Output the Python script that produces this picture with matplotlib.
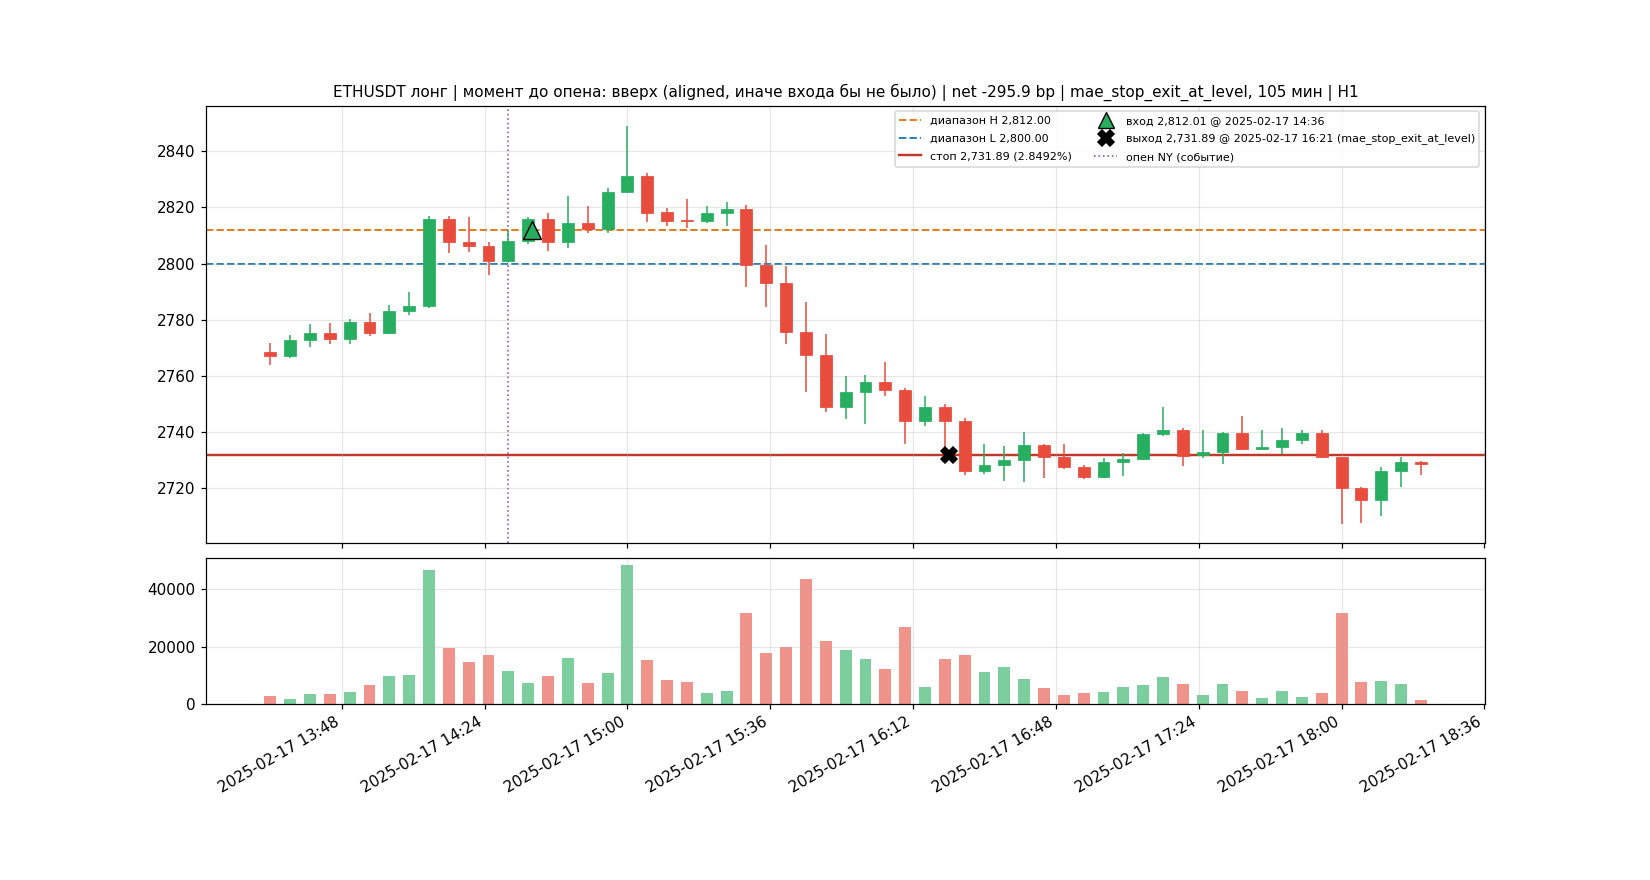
import matplotlib
matplotlib.use('agg')
import matplotlib.pyplot as plt
import matplotlib.dates as mdates
from matplotlib.lines import Line2D
from matplotlib.ticker import MultipleLocator
import numpy as np
import pandas as pd

# 5m bars, ETHUSDT 2025-02-17
t_start = '2025-02-17 13:30'
n_bars = 59

opens = [2768.5, 2767.0, 2772.9, 2775.4, 2773.2, 2779.3, 2775.4, 2783.2, 2785.0, 2815.7,
         2807.5, 2806.1, 2801.0, 2807.9, 2815.7, 2807.5, 2814.3, 2812.3, 2825.4, 2831.1,
         2818.2, 2815.5, 2815.0, 2817.9, 2819.3, 2799.3, 2792.9, 2775.7, 2767.4, 2748.9,
         2754.3, 2757.9, 2755.0, 2743.9, 2748.9, 2743.9, 2726.1, 2728.1, 2729.9, 2735.4,
         2730.9, 2727.5, 2723.8, 2729.2, 2730.2, 2739.2, 2740.7, 2731.6, 2732.7, 2739.6,
         2733.8, 2734.6, 2737.1, 2739.6, 2730.9, 2720.0, 2715.7, 2726.1, 2729.3]
highs = [2771.8, 2774.4, 2778.3, 2778.7, 2780.1, 2782.3, 2785.1, 2789.8, 2816.9, 2816.9,
         2816.5, 2807.6, 2811.9, 2816.5, 2817.9, 2824.0, 2820.5, 2826.8, 2849.2, 2832.3,
         2819.8, 2823.0, 2820.4, 2821.9, 2820.7, 2806.5, 2799.0, 2786.2, 2774.8, 2759.8,
         2760.1, 2764.8, 2755.5, 2752.7, 2749.8, 2745.0, 2735.8, 2735.1, 2740.1, 2735.8,
         2735.8, 2728.3, 2730.5, 2732.6, 2739.7, 2748.7, 2741.5, 2740.5, 2740.1, 2745.8,
         2740.5, 2741.2, 2740.8, 2740.5, 2731.0, 2720.2, 2727.3, 2731.2, 2729.6]
lows = [2764.0, 2766.3, 2770.2, 2771.2, 2771.2, 2774.2, 2774.9, 2781.5, 2784.2, 2803.8,
        2804.2, 2796.0, 2801.0, 2807.0, 2804.5, 2805.6, 2811.0, 2811.0, 2825.4, 2814.9,
        2813.5, 2812.5, 2814.5, 2813.5, 2791.5, 2784.4, 2771.3, 2754.2, 2747.0, 2744.4,
        2742.9, 2752.7, 2735.6, 2742.0, 2731.8, 2724.5, 2724.9, 2722.4, 2722.2, 2723.5,
        2726.7, 2723.3, 2723.7, 2724.4, 2730.1, 2738.4, 2727.7, 2730.6, 2728.4, 2733.5,
        2733.8, 2732.2, 2735.6, 2730.6, 2707.3, 2707.4, 2710.1, 2720.2, 2724.5]
closes = [2767.0, 2772.9, 2775.4, 2773.2, 2779.3, 2775.4, 2783.2, 2785.0, 2815.7, 2807.5,
          2806.1, 2801.0, 2807.9, 2815.7, 2807.5, 2814.3, 2812.3, 2825.4, 2831.1, 2818.1,
          2815.2, 2815.0, 2817.9, 2819.3, 2799.3, 2792.9, 2775.7, 2767.4, 2748.9, 2754.3,
          2757.9, 2755.0, 2743.9, 2748.9, 2743.9, 2726.1, 2728.1, 2730.0, 2735.4, 2730.9,
          2727.5, 2723.8, 2729.3, 2730.3, 2739.3, 2740.7, 2731.5, 2732.8, 2739.6, 2733.8,
          2734.6, 2737.1, 2739.6, 2730.9, 2720.0, 2715.7, 2726.1, 2729.3, 2728.5]
volumes = [2900, 1850, 3600, 3600, 4300, 6700, 9850, 10200, 46700, 19600,
           14700, 17150, 11600, 7400, 9850, 16100, 7400, 10900, 48450, 15400,
           8450, 7750, 3950, 4650, 31750, 17850, 19950, 43600, 22000, 18900,
           15750, 12300, 26900, 6050, 15750, 17150, 11250, 13000, 8800, 5700,
           3250, 3950, 4300, 6050, 6700, 9500, 7050, 3250, 7050, 4650,
           2200, 4650, 2550, 3950, 31750, 7750, 8100, 7050, 1500]

range_hi = 2812.00
range_lo = 2800.00
stop_px = 2731.89
entry_px = 2812.01
entry_t = '2025-02-17 14:36'
exit_px = 2731.89
exit_t = '2025-02-17 16:21'
ny_open_t = '2025-02-17 14:30'

title = ('ETHUSDT лонг | момент до опена: вверх (aligned, иначе входа бы не было) | '
         'net -295.9 bp | mae_stop_exit_at_level, 105 мин | H1')

GREEN = '#27ae60'
RED = '#e74c3c'

times = pd.date_range(t_start, periods=n_bars, freq='5min')
x = mdates.date2num(times.to_pydatetime())
o = np.array(opens); h = np.array(highs); l = np.array(lows); c = np.array(closes)
up = c >= o
cols = np.where(up, GREEN, RED)
w = 0.6 * 5 / 1440.0

fig, (ax, axv) = plt.subplots(2, 1, figsize=(15, 8), sharex=True,
                              gridspec_kw={'height_ratios': [3, 1], 'hspace': 0.05})

ax.vlines(x, l, h, colors=cols, linewidth=1.0, zorder=2)
body_lo = np.minimum(o, c)
body_h = np.maximum(np.abs(c - o), 0.3)
ax.bar(x, body_h, bottom=body_lo, width=w, color=cols, edgecolor=cols,
       linewidth=0.5, zorder=3)

ax.axhline(range_hi, color='#e67e22', linestyle='--', linewidth=1.3, zorder=1)
ax.axhline(range_lo, color='#2980b9', linestyle='--', linewidth=1.3, zorder=1)
ax.axhline(stop_px, color='#c0392b', linestyle='-', linewidth=1.6, zorder=1)
ax.axvline(mdates.date2num(pd.Timestamp(ny_open_t)), color='#9b59b6', linestyle=':',
           linewidth=1.1, zorder=1)

ax.plot(mdates.date2num(pd.Timestamp(entry_t)), entry_px, marker='^', markersize=12,
        color=GREEN, markeredgecolor='black', markeredgewidth=0.9, linestyle='none', zorder=5)
ax.plot(mdates.date2num(pd.Timestamp(exit_t)), exit_px, marker='X', markersize=11,
        color='black', linestyle='none', zorder=5)

handles = [
    Line2D([], [], color='#e67e22', linestyle='--', linewidth=1.3),
    Line2D([], [], color='#2980b9', linestyle='--', linewidth=1.3),
    Line2D([], [], color='#c0392b', linestyle='-', linewidth=1.6),
    Line2D([], [], marker='^', markersize=11, color=GREEN, markeredgecolor='black',
           markeredgewidth=0.9, linestyle='none'),
    Line2D([], [], marker='X', markersize=10, color='black', linestyle='none'),
    Line2D([], [], color='#9b59b6', linestyle=':', linewidth=1.1),
]
labels = [
    f'диапазон H {range_hi:,.2f}',
    f'диапазон L {range_lo:,.2f}',
    f'стоп {stop_px:,.2f} (2.8492%)',
    f'вход {entry_px:,.2f} @ {entry_t}',
    f'выход {exit_px:,.2f} @ {exit_t} (mae_stop_exit_at_level)',
    'опен NY (событие)',
]
ax.legend(handles, labels, loc='upper right', ncol=2, fontsize=7.3, labelspacing=0.7)
ax.set_title(title, fontsize=10)
ax.grid(True, alpha=0.3)

axv.bar(x, volumes, width=w, color=cols, alpha=0.6)
axv.grid(True, alpha=0.3)
axv.yaxis.set_major_locator(MultipleLocator(20000))

axv.xaxis.set_major_locator(MultipleLocator(0.025))
axv.xaxis.set_major_formatter(mdates.DateFormatter('%Y-%m-%d %H:%M'))
fig.autofmt_xdate(bottom=0.2, rotation=30, ha='right')

fig.savefig('out.png', dpi=110)
plt.close()
